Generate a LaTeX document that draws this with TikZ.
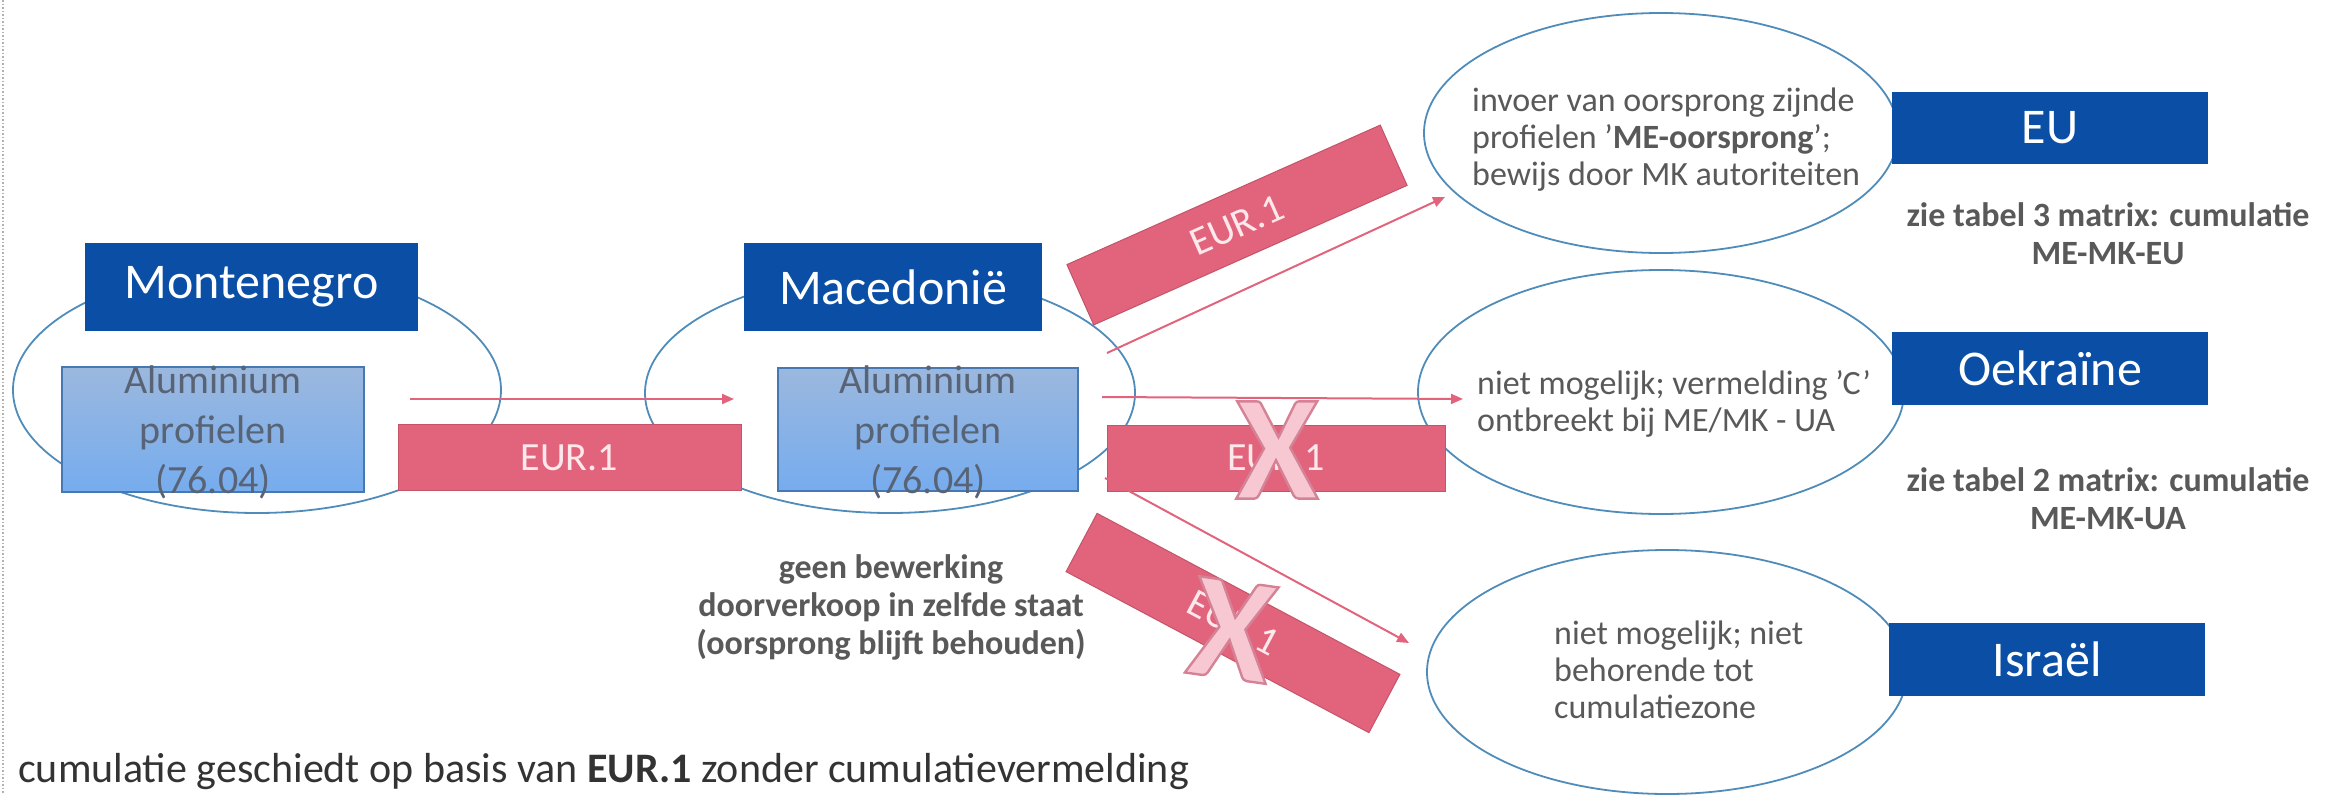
\documentclass[tikz,border=0pt]{standalone}
\usepackage{fontspec}
\setmainfont{Carlito}
\usetikzlibrary{arrows.meta,shapes.geometric}
\definecolor{dblue}{RGB}{10,78,165}
\definecolor{pinkbar}{RGB}{226,100,124}
\definecolor{pinkedge}{RGB}{196,84,104}
\definecolor{ellline}{RGB}{80,140,185}
\definecolor{alumtop}{RGB}{155,184,222}
\definecolor{alumbot}{RGB}{118,172,238}
\definecolor{alumedge}{RGB}{70,120,180}
\definecolor{txtgray}{RGB}{89,89,89}
\definecolor{alumtxt}{RGB}{88,100,118}
\definecolor{xpink}{RGB}{247,200,210}
\definecolor{bartxt}{RGB}{253,232,236}
\newcommand{\crossmk}{\special{pdf:literal direct 2 Tr 2.4 w 0.84 0.51 0.59 RG}X\special{pdf:literal direct 0 Tr}}
\tikzset{
  country/.style={fill=dblue, text=white, font=\fontsize{50}{60}\selectfont, inner sep=0pt},
  alum/.style={draw=alumedge, line width=1.5pt, top color=alumtop, bottom color=alumbot, inner sep=0pt},
  alumtext/.style={text=alumtxt, align=center, font=\fontsize{40}{50}\selectfont, inner sep=0pt},
  eurbar/.style={fill=pinkbar, draw=pinkedge, line width=1pt, text=bartxt, font=\fontsize{40}{48}\selectfont, minimum width=343pt, minimum height=66pt, inner sep=0pt},
  zone/.style={draw=ellline, line width=1.8pt, ellipse, inner sep=0pt},
  arr/.style={draw=pinkbar, line width=2pt, -{Triangle[length=12pt,width=10pt]}},
  zonetext/.style={text=txtgray, align=left, font=\fontsize{34}{37}\selectfont, inner sep=0pt, anchor=west},
  note/.style={text=txtgray, align=center, font=\bfseries\fontsize{34}{38}\selectfont, inner sep=0pt},
  cross/.style={text=xpink, font=\bfseries\fontsize{150}{150}\selectfont, inner sep=0pt},
}
\begin{document}
\begin{tikzpicture}[x=1pt,y=-1pt]
\useasboundingbox (0,0) rectangle (2335,795);
\draw[gray!60, dotted, line width=1.5pt] (3,0) -- (3,795);
% zones
\node[zone, minimum width=488pt, minimum height=246pt] (zmne) at (257,390) {};
\node[zone, minimum width=490pt, minimum height=240pt] (zmk) at (890,393) {};
\node[zone, minimum width=474pt, minimum height=240pt] (zeu) at (1661,133) {};
\node[zone, minimum width=486pt, minimum height=244pt] (zua) at (1661,392) {};
\node[zone, minimum width=480pt, minimum height=244pt] (zil) at (1667,672) {};
% country boxes
\node[country, minimum width=333pt, minimum height=88pt] (mne) at (251.5,287) {Montenegro};
\node[country, minimum width=298pt, minimum height=88pt] (mk) at (893,287) {Macedonië};
\node[country, minimum width=316pt, minimum height=72pt] (eu) at (2050,128) {EU};
\node[country, minimum width=316pt, minimum height=73pt] (ua) at (2050,368.5) {Oekraïne};
\node[country, minimum width=316pt, minimum height=73pt] (il) at (2047,659.5) {Israël};
% aluminium boxes
\node[alum, minimum width=302pt, minimum height=125pt] (al1) at (213,429.5) {};
\node[alumtext] (al1t) at (213,432) {Aluminium\\profielen\\(76.04)};
\node[alum, minimum width=300pt, minimum height=123pt] (al2) at (928,429.5) {};
\node[alumtext] (al2t) at (928,432) {Aluminium\\profielen\\(76.04)};
% EUR.1 bars
\node[eurbar] (b1) at (569.5,457.5) {EUR.1};
\node[eurbar, minimum width=338pt] (b2) at (1276,458) {EUR.1};
\node[eurbar, rotate=24] (b3) at (1237,225) {EUR.1};
\node[eurbar, rotate=-28] (b4) at (1233,623) {EUR.1};
% arrows
\coordinate (a1s) at (410,399);
\coordinate (a1e) at (734,399);
\coordinate (a2s) at (1107,353);
\coordinate (a2e) at (1445,197);
\coordinate (a3s) at (1102,397);
\coordinate (a3e) at (1463,399);
\coordinate (a4s) at (1105,478);
\coordinate (a4e) at (1409,643);
\draw[arr] (a1s) -- (a1e);
\draw[arr] (a2s) -- (a2e);
\draw[arr] (a3s) -- (a3e);
\draw[arr] (a4s) -- (a4e);
% crosses
\node[cross] (x1) at (1277,450) {\crossmk};
\node[cross, rotate=-8] (x2) at (1232,630) {\crossmk};
% zone texts
\node[zonetext] (t1) at (1472,140) {invoer van oorsprong zijnde\\profielen '\textbf{ME-oorsprong}';\\bewijs door MK autoriteiten};
\node[zonetext] (t2) at (1477,404) {niet mogelijk; vermelding 'C'\\ontbreekt bij ME/MK - UA};
\node[zonetext] (t3) at (1554,670) {niet mogelijk; niet\\behorende tot\\cumulatiezone};
% notes
\node[note] (n1) at (2108,234) {zie tabel 3 matrix: cumulatie\\ME-MK-EU};
\node[note] (n2) at (2108,499) {zie tabel 2 matrix: cumulatie\\ME-MK-UA};
\node[note] (n3) at (891,607) {geen bewerking\\doorverkoop in zelfde staat\\(oorsprong blijft behouden)};
\node[text=black!80, font=\fontsize{42}{50}\selectfont, inner sep=0pt, anchor=west] (foot) at (18,772) {cumulatie geschiedt op basis van \textbf{EUR.1} zonder cumulatievermelding};
\end{tikzpicture}
\end{document}
